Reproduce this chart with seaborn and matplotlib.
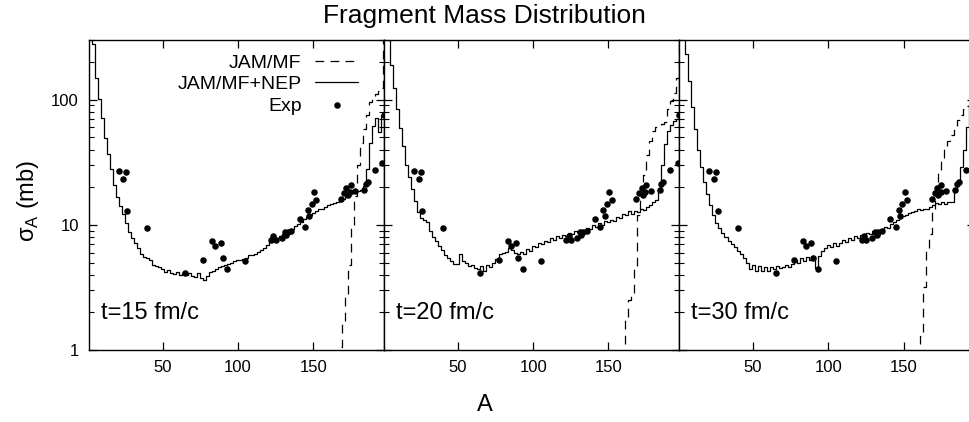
import pandas as pd
import seaborn as sns
import matplotlib.pyplot as plt
from matplotlib.ticker import FixedLocator, LogLocator, NullFormatter

# mass number bins (A = 2..196, step 2)
A_bins = list(range(2, 198, 2))

# JAM/MF+NEP (solid) for the three times
nep_15 = [400, 280, 150, 102, 72, 49, 37, 28, 21, 16.8,
          14.2, 12.1, 10.3, 8.7, 7.9, 7.2, 6.5, 5.8, 5.5, 5.4,
          5.2, 4.8, 4.7, 4.6, 4.4, 4.2, 4.35, 4.1, 4.05, 4.2,
          4.0, 4.1, 3.95, 4.1, 3.9, 3.85, 4.1, 3.75, 3.6, 3.9,
          4.2, 4.3, 4.45, 4.6, 4.7, 4.8, 4.9, 4.95, 5.1, 5.2,
          5.25, 5.35, 5.4, 5.7, 5.75, 5.9, 6.1, 6.3, 6.55, 6.9,
          7.3, 7.6, 7.9, 8.1, 8.5, 8.8, 9.0, 9.3, 9.8, 10.2,
          10.6, 11.1, 11.6, 12.0, 12.4, 13.0, 13.3, 13.5, 13.9, 14.3,
          14.6, 14.9, 15.2, 15.6, 16.2, 16.7, 17.5, 18.0, 18.5, 18.6,
          18.9, 20.5, 28, 45, 62, 72, 55, 76]
nep_20 = [400, 300, 190, 125, 84, 59, 43, 30, 24, 19.5,
          15.6, 12.6, 11.4, 11.0, 10.6, 9.0, 8.0, 7.4, 6.8, 6.3,
          5.7, 5.45, 5.1, 4.85, 4.9, 5.8, 5.1, 4.95, 4.7, 4.8,
          4.5, 4.4, 4.7, 4.3, 4.8, 4.6, 5.0, 5.3, 5.8, 6.0,
          6.1, 6.5, 6.3, 6.0, 5.8, 6.1, 5.9, 6.4, 6.2, 6.8,
          6.6, 7.2, 7.0, 7.4, 7.3, 7.8, 7.6, 8.1, 7.9, 8.3,
          8.1, 8.6, 8.4, 8.9, 8.7, 9.1, 9.0, 9.5, 9.3, 9.9,
          9.6, 10.3, 10.0, 10.7, 10.5, 11.0, 10.8, 11.5, 11.3, 12.2,
          12.0, 12.8, 12.3, 13.0, 12.6, 13.4, 13.2, 13.8, 14.5, 15.2,
          15.8, 19, 30, 44, 56, 63, 67, 70]
nep_30 = [400, 360, 230, 140, 88, 58, 40, 29, 22, 17.5,
          14.5, 12.0, 10.4, 9.4, 8.6, 8.0, 7.4, 7.0, 6.6, 6.2,
          5.8, 5.4, 5.0, 4.4, 4.8, 4.3, 4.7, 4.3, 4.6, 4.25,
          4.6, 4.4, 4.7, 4.5, 4.6, 4.75, 4.6, 4.9, 5.2, 5.0,
          5.4, 5.1, 5.5, 5.2, 5.6, 4.5, 5.6, 6.2, 6.5, 6.9,
          6.7, 7.1, 6.8, 7.2, 7.5, 7.3, 7.8, 7.6, 8.1, 7.9,
          8.3, 8.2, 8.6, 8.4, 8.9, 8.7, 9.1, 9.0, 9.6, 9.4,
          10.1, 10.5, 11.0, 11.3, 11.7, 12.0, 12.4, 12.6, 13.0, 13.3,
          13.1, 13.5, 13.4, 14.0, 14.5, 15.0, 14.6, 15.1, 14.8, 15.2,
          15.3, 19, 23, 29, 40, 60, 90, 100]

# JAM/MF (dashed), only the heavy residue region
mf_A_15 = [166, 168, 170, 172, 174, 176, 178, 180, 182, 184, 186, 188, 190, 192, 194, 196, 197]
mf_15 = [0.5, 1.05, 1.6, 2.7, 4.8, 9.5, 17, 30, 45, 58, 76, 95, 105, 112, 118, 125, 400]
mf_A_20 = [160, 162, 164, 166, 168, 170, 172, 174, 176, 178, 180, 182, 184, 186, 188, 190, 192, 194, 196, 197]
mf_20 = [0.5, 1.8, 2.5, 2.8, 4.5, 12, 17, 25, 36, 47, 56, 60, 63, 64, 66, 84, 97, 113, 150, 400]
mf_A_30 = [160, 162, 164, 166, 168, 170, 172, 174, 176, 178, 180, 182, 184, 186, 188, 190, 192, 194, 196]
mf_30 = [0.5, 1.3, 3.2, 6.2, 8.5, 13, 19, 26, 33, 41, 47, 52, 60, 69, 76, 84, 89, 92, 95]

# experimental data
exp_A = [21, 24, 25.5, 26.5, 40, 65, 77, 83, 85, 88.5, 90, 93, 105, 122, 123.5,
         125, 129, 131, 132, 133, 135.5, 141, 144.5, 146.5, 147.5, 149, 150.5, 152,
         168.5, 170.5, 172, 173, 174.5, 175, 178, 184, 185, 186.5, 191, 196, 197]
exp_sigma = [26.8, 23.1, 26.5, 13.0, 9.5, 4.1, 5.2, 7.4, 6.8, 7.1, 5.45, 4.4, 5.1, 7.6, 8.1,
             7.5, 7.8, 8.7, 8.25, 8.8, 9.0, 11.2, 9.7, 13.1, 11.7, 14.8, 18.3, 15.9,
             16.1, 18.0, 19.7, 17.4, 18.2, 21.0, 18.5, 19.1, 21.4, 22.0, 27.6, 31.0, 75]

times = ['t=15 fm/c', 't=20 fm/c', 't=30 fm/c']
nep_all = [nep_15, nep_20, nep_30]
mf_all = [(mf_A_15, mf_15), (mf_A_20, mf_20), (mf_A_30, mf_30)]

sns.set_theme(style='ticks')
plt.rcParams['font.family'] = ['Liberation Sans', 'DejaVu Sans']
plt.rcParams['mathtext.fontset'] = 'custom'
plt.rcParams['mathtext.rm'] = 'Liberation Sans'
for key in ['text.color', 'axes.labelcolor', 'xtick.color', 'ytick.color', 'axes.edgecolor']:
    plt.rcParams[key] = 'black'

fig = plt.figure(figsize=(9.69, 4.22), dpi=100)
W, H = 969, 422
panel_w = 295.3
lefts = [88.7, 384.0, 679.3]

for i in range(3):
    ax = fig.add_axes([lefts[i] / W, 72 / H, panel_w / W, 310 / H])
    first = i == 0
    sns.lineplot(x=mf_all[i][0], y=mf_all[i][1], drawstyle='steps-mid', color='black',
                 lw=0.9, linestyle=(0, (7, 5)), ax=ax, label='JAM/MF' if first else None)
    sns.lineplot(x=A_bins, y=nep_all[i], drawstyle='steps-mid', color='black',
                 lw=0.9, ax=ax, label='JAM/MF+NEP' if first else None)
    sns.scatterplot(x=exp_A, y=exp_sigma, color='black', s=22, linewidth=0, ax=ax,
                    clip_on=(not first), label='Exp' if first else None, zorder=3)
    ax.set_yscale('log')
    ax.set_ylim(1, 300)
    ax.set_xlim(1, 197)
    ax.xaxis.set_major_locator(FixedLocator([50, 100, 150]))
    ax.yaxis.set_major_locator(FixedLocator([1, 10, 100]))
    ax.yaxis.set_minor_locator(LogLocator(base=10, subs=range(2, 10)))
    ax.yaxis.set_minor_formatter(NullFormatter())
    ax.tick_params(which='both', direction='in', top=True, right=True,
                   labelsize=12, pad=7, color='black')
    ax.tick_params(which='major', length=6, width=0.9)
    ax.tick_params(which='minor', length=3.5, width=0.8)
    if first:
        ax.set_yticklabels(['1', '10', '100'])
    else:
        ax.set_yticklabels([])
    ax.set_xlabel('')
    ax.set_ylabel('')
    for sp in ax.spines.values():
        sp.set_linewidth(1.0)
        sp.set_color('black')
    ax.text(0.04, 0.12, times[i], transform=ax.transAxes, fontsize=17, va='center', ha='left')
    if first:
        ax.legend(loc='upper right', bbox_to_anchor=(0.912, 0.955), markerfirst=False,
                  frameon=False, fontsize=14, handlelength=2.2, handletextpad=0.7,
                  labelspacing=0.2, borderaxespad=0, borderpad=0)
    elif ax.get_legend() is not None:
        ax.get_legend().remove()

fig.text(0.5, 0.962, 'Fragment Mass Distribution', ha='center', va='center', fontsize=19)
fig.text(0.5, 0.04, 'A', ha='center', va='center', fontsize=17)
fig.text(0.029, 0.524, r'σ$_{\rm A}$ (mb)', ha='center', va='center', rotation=90, fontsize=17)

fig.savefig('out.png', dpi=100)
